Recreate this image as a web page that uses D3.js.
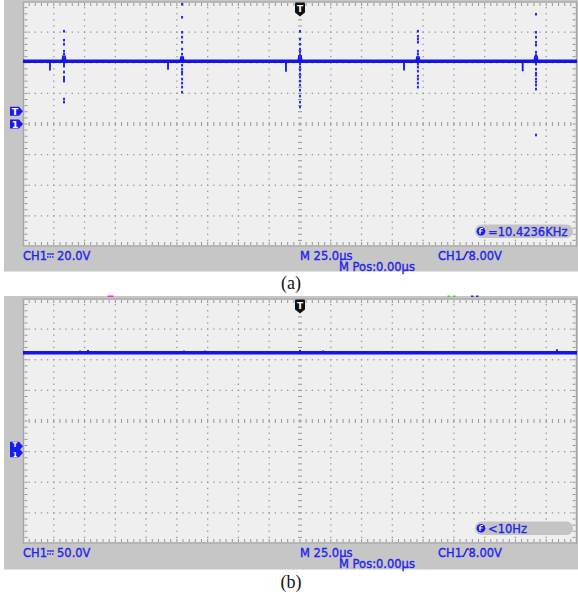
<!DOCTYPE html>
<html><head><meta charset="utf-8">
<script src="https://cdn.jsdelivr.net/npm/d3@7"></script>
<style>html,body{margin:0;padding:0;background:#fff;}svg{display:block;}</style>
</head><body>
<svg id="c" width="578" height="599"></svg>
<script>
// ---------------- data ----------------
const timeDomain = [-225, 225];            // µs across the screen (18 div x 25 µs)
const voltDomainA = [80, -80];              // V, top..bottom, 20 V/div, ground at centre
const voltDomainB = [250, -150];            // V, top..bottom, 50 V/div, ground 1 div below centre

// panel (a) trace: baseline with small hooks at each switching instant
const traceTimesA  = [-225, -192.3, -191.7, -191.1, -96.4, -95.8, -95.2, -0.6, 0, 0.6, 95.2, 95.8, 96.4, 191.1, 191.7, 192.3, 225];
const traceValuesA = [41, 41, 44.5, 41, 41, 44, 41, 41, 45, 41, 41, 44, 41, 41, 44.5, 41, 41];
// negative glitches just before each edge
const dipTimesA  = [-203.1, -107.2, -11.4, 84.5, 180.9];
const dipLevelsA = [35.0, 35.5, 34.2, 35.0, 34.5];
// sampled points of the ringing at each edge
const spikeTimesA = [-191.7, -95.8, 0, 95.8, 191.7];
const spikeDotsA = [
  [60.6, 54.7, 52.1, 47.6, 45.6, 43.6, 39.1, 37.8, 33.9, 30.6, 29.3, 28.0, 16.3, 14.3],
  [78.2, 69.7, 59.9, 56.7, 53.4, 48.9, 45.6, 43.6, 38.4, 35.8, 33.9, 32.6, 29.3, 26.7, 24.1, 20.8],
  [60.6, 55.4, 52.1, 48.9, 46.9, 45.0, 43.6, 39.1, 37.1, 35.2, 32.6, 30.6, 28.0, 25.4, 22.1, 18.2, 14.3, 11.1],
  [60.6, 57.3, 55.4, 53.4, 47.6, 45.6, 43.6, 39.1, 37.1, 34.5, 31.3, 29.3, 26.7, 24.1],
  [71.7, 59.9, 56.7, 53.4, 51.5, 46.9, 45.0, 43.6, 39.1, 35.8, 33.2, 31.9, 29.3, 27.4, 25.4, 22.8, -7.2]
];

// panel (b) trace: flat DC level with tiny bumps
const traceTimesB  = [-225, 225];
const traceValuesB = [161.5, 161.5];
const bumpTimesB  = [-178.7, -172.2, -94.2, -77.2, 0, 18.7, 113.7, 208.7];
const bumpLevelsB = [165, 166, 165, 165, 166, 165, 164, 167];

// readouts
const chLabelsA   = ["CH1", "20.0V"];
const chLabelsB   = ["CH1", "50.0V"];
const timeLabels  = ["M 25.0µs", "M Pos:0.00µs"];
const trigLabels  = ["CH1", "8.00V"];
const freqLabels  = ["=10.4236KHz", "<10Hz"];
const captions    = ["(a)", "(b)"];
const trigLevel   = 8;   // V
const trigTime    = 0;   // µs

// ---------------- drawing ----------------
const svg = d3.select("#c");
const BLUE = "#1414e6", TXT = "#2424ec", GRAYBG = "#c6c6c6";

function screen(g, W, H) {
  const nx = 18, ny = 8, sub = 5, dx = W / nx, dy = H / ny;
  g.append("rect").attr("width", W).attr("height", H).attr("fill", "#efefef");
  const dots = [];
  d3.range(1, nx).forEach(i => { if (i !== nx / 2) d3.range(1, ny * sub).forEach(j => dots.push([i * dx, j * dy / sub])); });
  d3.range(1, ny).forEach(k => { if (k !== ny / 2) d3.range(1, nx * sub).forEach(j => dots.push([j * dx / sub, k * dy])); });
  g.append("g").selectAll("rect").data(dots).join("rect")
    .attr("x", d => d[0] - 0.65).attr("y", d => d[1] - 0.65).attr("width", 1.3).attr("height", 1.3).attr("fill", "#969696");
  // centre column dashes
  g.append("g").selectAll("line").data(d3.range(1, ny * sub)).join("line")
    .attr("x1", W / 2 - 2).attr("x2", W / 2 + 2).attr("y1", j => j * dy / sub).attr("y2", j => j * dy / sub)
    .attr("stroke", "#969696").attr("stroke-width", 1);
  // centre row ticks
  g.append("g").selectAll("line").data(d3.range(1, nx * sub)).join("line")
    .attr("y1", H / 2 - 2).attr("y2", H / 2 + 2).attr("x1", j => j * dx / sub).attr("x2", j => j * dx / sub)
    .attr("stroke", "#969696").attr("stroke-width", 1);
  // border ticks
  const bt = g.append("g").attr("stroke", "#969696").attr("stroke-width", 1);
  d3.range(1, nx * sub).forEach(j => {
    const x = j * dx / sub;
    bt.append("line").attr("x1", x).attr("x2", x).attr("y1", 1.5).attr("y2", 4.5);
    bt.append("line").attr("x1", x).attr("x2", x).attr("y1", H - 4.5).attr("y2", H - 1.5);
  });
  d3.range(1, ny * sub).forEach(j => {
    const y = j * dy / sub;
    bt.append("line").attr("y1", y).attr("y2", y).attr("x1", 1.5).attr("x2", 4.5);
    bt.append("line").attr("y1", y).attr("y2", y).attr("x1", W - 4.5).attr("x2", W - 1.5);
  });
  g.append("rect").attr("x", 0.5).attr("y", 0.5).attr("width", W - 1).attr("height", H - 1)
    .attr("fill", "none").attr("stroke", "#a6a6a6").attr("stroke-width", 1.5);
}

function topMarker(g, x) {
  const m = g.append("g").attr("transform", `translate(${x},1)`);
  m.append("path").attr("d", "M-5,1 Q-5,0 -4,0 L4,0 Q5,0 5,1 L5,10 L0,14 L-5,10 Z").attr("fill", "#111");
  m.append("text").attr("x", 0).attr("y", 9.5).attr("text-anchor", "middle").attr("fill", "#fff")
    .attr("font-family", "DejaVu Sans").attr("font-weight", "bold").attr("font-size", 9).text("T");
}

function leftMarker(g, y, label, fsz, dy) {
  const m = g.append("g").attr("transform", `translate(10,${y})`);
  m.append("path").attr("d", "M0,-4.5 L9,-4.5 L13,0 L9,4.5 L0,4.5 Z").attr("fill", "#1a1af0");
  m.append("text").attr("x", 5).attr("y", dy).attr("text-anchor", "middle").attr("fill", "#fff")
    .attr("font-family", "DejaVu Sans").attr("font-weight", "bold").attr("font-size", fsz).text(label);
}

function panel(opts) {
  const { top, grayH, scrY, chLab, freq, cap, capY, vDom, draw, extraMarks, tight } = opts;
  const X0 = 23, W = 554, H = 245;
  const root = svg.append("g");
  root.append("rect").attr("x", 4).attr("y", top).attr("width", 574).attr("height", grayH).attr("fill", GRAYBG);
  const g = root.append("g").attr("transform", `translate(${X0},${scrY})`);
  screen(g, W, H);
  const x = d3.scaleLinear().domain(timeDomain).range([0, W]);
  const y = d3.scaleLinear().domain(vDom).range([0, H]);
  if (extraMarks) extraMarks(root);
  const plot = g.append("g");
  draw(plot, x, y);
  topMarker(g, x(trigTime));
  // left markers (trigger level, ground)
  if (tight) {
    leftMarker(root, scrY + y(trigLevel) - 0.5, "T", 6.5, 1.2);
    leftMarker(root, scrY + y(0) + 1, "1", 6.5, 4.2);
  } else {
    leftMarker(root, scrY + y(trigLevel) - 0.5, "T", 9.5, 3.7);
    leftMarker(root, scrY + y(0), "1", 9.5, 3.7);
  }

  // readouts
  const b1 = scrY + H + 13.5, b2 = scrY + H + 24;
  const font = "DejaVu Sans", fs = 11.5;
  const t = (xx, yy, s) => root.append("text").attr("x", xx).attr("y", yy).attr("font-family", font)
    .attr("font-size", fs).attr("fill", TXT).attr("stroke", TXT).attr("stroke-width", 0.35).text(s);
  t(23, b1, chLab[0]);
  // DC coupling symbol
  root.append("line").attr("x1", 47).attr("x2", 54).attr("y1", b1 - 6).attr("y2", b1 - 6).attr("stroke", TXT).attr("stroke-width", 1.3);
  root.append("line").attr("x1", 47).attr("x2", 54).attr("y1", b1 - 3).attr("y2", b1 - 3).attr("stroke", TXT).attr("stroke-width", 1.3).attr("stroke-dasharray", "1.5,1");
  t(57, b1, chLab[1]);
  t(300, b1, timeLabels[0]);
  t(339, b2, timeLabels[1]);
  t(438, b1, trigLabels[0]);
  root.append("path").attr("d", `M461.5,${b1 - 0.7} L463.5,${b1 - 0.7} L467,${b1 - 8} L469,${b1 - 8}`)
    .attr("fill", "none").attr("stroke", TXT).attr("stroke-width", 1.5);
  t(468.5, b1, trigLabels[1]);

  // frequency box
  const fy = scrY + H - 22;
  root.append("rect").attr("x", 475).attr("y", fy).attr("width", 98).attr("height", 13.5).attr("rx", 6.5).attr("fill", "#c4c4c4");
  root.append("circle").attr("cx", 481).attr("cy", fy + 6.8).attr("r", 4.3).attr("fill", "#1a1af0");
  root.append("path").attr("d", `M480,${fy + 9.5} L480,${fy + 5} Q480,${fy + 4} 481.5,${fy + 4} L483,${fy + 4} M478.8,${fy + 6.5} L482.5,${fy + 6.5}`)
    .attr("stroke", "#fff").attr("stroke-width", 1.2).attr("fill", "none");
  t(488, fy + 11, freq);

  svg.append("text").attr("x", 291).attr("y", capY).attr("text-anchor", "middle")
    .attr("font-family", "Liberation Serif").attr("font-size", 18).attr("fill", "#111").text(cap);
}

// panel (a)
panel({
  top: 0, grayH: 271.5, scrY: 1.5, chLab: chLabelsA, freq: freqLabels[0], cap: captions[0], capY: 289,
  vDom: voltDomainA,
  draw: (p, x, y) => {
    const pts = traceTimesA.map((t, i) => [t, traceValuesA[i]]);
    p.selectAll("path.dip").data(dipTimesA).join("path").attr("class", "dip")
      .attr("d", (t, i) => `M${x(t) - 1.5},${y(41)} L${x(t)},${y(41) + 1.5} L${x(t)},${y(dipLevelsA[i])}`)
      .attr("stroke", BLUE).attr("stroke-width", 1.8).attr("fill", "none");
    p.append("path").datum(pts).attr("fill", "none").attr("stroke", BLUE).attr("stroke-width", 3.6)
      .attr("d", d3.line().x(d => x(d[0])).y(d => y(d[1])));
    const dots = [];
    spikeTimesA.forEach((t, i) => spikeDotsA[i].forEach(v => dots.push([t, v])));
    p.selectAll("rect.dot").data(dots).join("rect").attr("class", "dot")
      .attr("x", d => x(d[0]) - 1).attr("y", d => y(d[1]) - 1.3).attr("width", 2).attr("height", 2.6)
      .attr("fill", "#2a2af5");
  }
});

// panel (b)
panel({
  top: 296, grayH: 273.5, scrY: 298.5, chLab: chLabelsB, freq: freqLabels[1], cap: captions[1], capY: 587.5,
  vDom: voltDomainB, tight: true,
  extraMarks: (root) => {
    root.append("rect").attr("x", 107.5).attr("y", 295.5).attr("width", 6).attr("height", 1.5).attr("fill", "#ff22ff");
    root.append("rect").attr("x", 447.5).attr("y", 295.5).attr("width", 2.5).attr("height", 1.5).attr("fill", "#33dd33");
    root.append("rect").attr("x", 453).attr("y", 295.5).attr("width", 2.5).attr("height", 1.5).attr("fill", "#33dd33");
    root.append("rect").attr("x", 471).attr("y", 295.5).attr("width", 2.5).attr("height", 1.5).attr("fill", "#2222ee");
    root.append("rect").attr("x", 476).attr("y", 295.5).attr("width", 2.5).attr("height", 1.5).attr("fill", "#2222ee");
  },
  draw: (p, x, y) => {
    const pts = traceTimesB.map((t, i) => [t, traceValuesB[i]]);
    p.append("path").datum(pts).attr("fill", "none").attr("stroke", BLUE).attr("stroke-width", 3.4)
      .attr("d", d3.line().x(d => x(d[0])).y(d => y(d[1])));
    p.selectAll("rect.bump").data(bumpTimesB).join("rect").attr("class", "bump")
      .attr("x", t => x(t) - 1).attr("y", (t, i) => y(bumpLevelsB[i])).attr("width", 2)
      .attr("height", (t, i) => y(traceValuesB[0]) - y(bumpLevelsB[i])).attr("fill", BLUE);
  }
});
</script>
</body></html>
